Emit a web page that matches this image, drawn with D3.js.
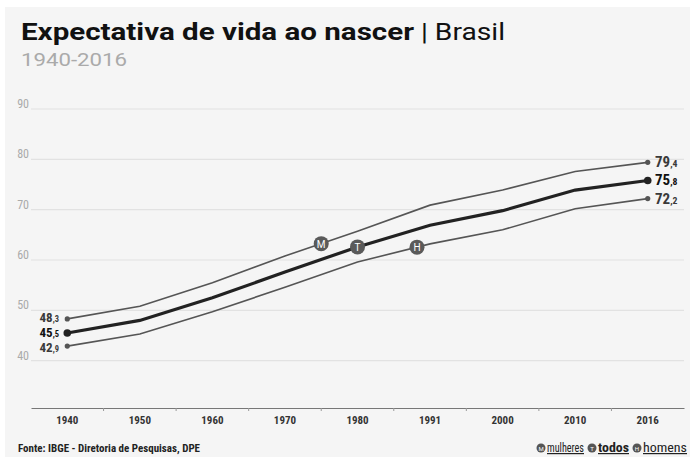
<!DOCTYPE html>
<meta charset="utf-8">
<style>
  body { margin: 0; background: #fff; }
  svg { display: block; }
  .cond { font-family: "Roboto Condensed", "Liberation Sans Narrow", "DejaVu Sans Condensed", sans-serif; font-stretch: condensed; }
</style>
<svg width="695" height="457"></svg>
<script src="https://d3js.org/d3.v7.min.js"></script>
<script>
var years = ["1940", "1950", "1960", "1970", "1980", "1991", "2000", "2010", "2016"]
var mulheres = [48.3, 50.8, 55.5, 60.8, 65.7, 70.9, 73.9, 77.6, 79.4]
var todos    = [45.5, 48.0, 52.5, 57.6, 62.6, 66.9, 69.8, 73.9, 75.8]
var homens   = [42.9, 45.3, 49.7, 54.6, 59.6, 63.2, 66.0, 70.2, 72.2]
var yTicks = [40, 50, 60, 70, 80, 90]

const svg = d3.select('svg')

svg.append('rect')
  .attr('x', 5).attr('y', 7)
  .attr('width', 685).attr('height', 450)
  .attr('fill', '#f5f5f5')

const x = d3.scaleBand().domain(years).range([31, 684])
const y = d3.scaleLinear().domain([30.6, 90]).range([408, 109])
const cx = d => x(d) + x.bandwidth() / 2

// gridlines
const grid = svg.append('g')
grid.selectAll('line')
  .data(yTicks)
  .enter().append('line')
  .attr('x1', 31).attr('x2', 684)
  .attr('y1', d => y(d)).attr('y2', d => y(d))
  .attr('stroke', '#e2e2e2')
  .attr('stroke-width', 1.2)

grid.selectAll('text')
  .data(yTicks)
  .enter().append('text')
  .attr('class', 'cond')
  .attr('x', 29).attr('y', d => y(d) - 1)
  .attr('text-anchor', 'end')
  .attr('font-size', 12)
  .attr('fill', '#aaa')
  .text(d => d)

// x axis
const xAxis = svg.append('g')
  .attr('transform', 'translate(0,408)')
  .call(d3.axisBottom(x).tickSize(0).tickPadding(8))
xAxis.select('.domain').attr('stroke', '#777').attr('stroke-width', 1)
xAxis.selectAll('text')
  .attr('class', 'cond')
  .attr('font-size', 11)
  .attr('font-weight', 'bold')
  .attr('fill', '#333')
xAxis.selectAll('.sep')
  .data(years.slice(1))
  .enter().append('line')
  .attr('x1', d => x(d)).attr('x2', d => x(d))
  .attr('y1', 0).attr('y2', 3)
  .attr('stroke', '#999')

// lines
const series = [
  { key: 'M', values: mulheres, width: 1.6, color: '#555', r: 2.6, dy: 3 },
  { key: 'H', values: homens, width: 1.6, color: '#555', r: 2.6, dy: 6 },
  { key: 'T', values: todos, width: 3.2, color: '#222', r: 3.8, dy: 4.5 }
]

const line = d3.line()
  .x((d, i) => cx(years[i]))
  .y(d => y(d))

series.forEach(s => {
  svg.append('path')
    .datum(s.values)
    .attr('d', line)
    .attr('fill', 'none')
    .attr('stroke', s.color)
    .attr('stroke-width', s.width)
  svg.append('g').selectAll('circle')
    .data([0, years.length - 1])
    .enter().append('circle')
    .attr('cx', i => cx(years[i]))
    .attr('cy', i => y(s.values[i]))
    .attr('r', s.r)
    .attr('fill', s.color)
})

// end labels
function valueLabel(v, xx, anchor, bold, size) {
  const parts = v.toFixed(1).split('.')
  const t = svg.append('text')
    .attr('class', 'cond')
    .attr('x', xx).attr('y', 0)
    .attr('text-anchor', anchor)
    .attr('fill', bold ? '#111' : '#3a3a3a')
    .attr('font-weight', 'bold')
  t.append('tspan').attr('font-size', size).text(parts[0])
  t.append('tspan').attr('font-size', size * 0.65).text(',' + parts[1])
  return t
}
series.forEach(s => {
  const bold = s.key === 'T'
  valueLabel(s.values[0], 59, 'end', bold, 13).attr('y', y(s.values[0]) + s.dy)
  valueLabel(s.values[years.length - 1], 655, 'start', bold, 15).attr('y', y(s.values[years.length - 1]) + 5)
})

// series markers on the lines
const markers = [
  { key: 'M', values: mulheres, from: 3, t: 0.5 },
  { key: 'T', values: todos, from: 4, t: 0 },
  { key: 'H', values: homens, from: 4, t: 0.82 }
]
markers.forEach(m => {
  const x0 = cx(years[m.from]), x1 = cx(years[m.from + 1])
  const v = m.values[m.from] + (m.values[m.from + 1] - m.values[m.from]) * m.t
  const g = svg.append('g')
    .attr('transform', 'translate(' + (x0 + (x1 - x0) * m.t) + ',' + y(v) + ')')
  g.append('circle').attr('r', 7.5).attr('fill', '#5a5a5a')
  g.append('text')
    .attr('text-anchor', 'middle').attr('dy', 4)
    .attr('font-family', 'Roboto, sans-serif')
    .attr('font-size', 10)
    .attr('fill', '#fff')
    .text(m.key)
})

// title
svg.append('text')
  .attr('x', 21).attr('y', 40)
  .attr('font-family', 'Roboto, sans-serif')
  .attr('font-size', 24)
  .attr('font-weight', 'bold')
  .attr('fill', '#111')
  .attr('textLength', 393)
  .attr('lengthAdjust', 'spacingAndGlyphs')
  .text('Expectativa de vida ao nascer')
svg.append('text')
  .attr('x', 421).attr('y', 40)
  .attr('font-family', 'Roboto, sans-serif')
  .attr('font-size', 24)
  .attr('fill', '#111')
  .attr('textLength', 84)
  .attr('lengthAdjust', 'spacingAndGlyphs')
  .text('| Brasil')

svg.append('text')
  .attr('x', 21).attr('y', 66)
  .attr('font-family', 'Roboto, sans-serif')
  .attr('font-size', 18)
  .attr('fill', '#aaa')
  .attr('textLength', 106)
  .attr('lengthAdjust', 'spacingAndGlyphs')
  .text('1940-2016')

// footer
svg.append('text')
  .attr('class', 'cond')
  .attr('x', 18).attr('y', 452)
  .attr('font-size', 11)
  .attr('font-weight', 'bold')
  .attr('fill', '#222')
  .attr('textLength', 182)
  .attr('lengthAdjust', 'spacingAndGlyphs')
  .text('Fonte: IBGE - Diretoria de Pesquisas, DPE')

const legend = [
  { key: 'M', label: 'mulheres', x: 541, w: 37, bold: false },
  { key: 'T', label: 'todos', x: 592, w: 31, bold: true },
  { key: 'H', label: 'homens', x: 637, w: 44, bold: false }
]
const lg = svg.append('g').selectAll('g')
  .data(legend)
  .enter().append('g')
  .attr('transform', d => 'translate(' + d.x + ',448)')
lg.append('circle').attr('r', 4.5).attr('fill', '#555')
lg.append('text')
  .attr('text-anchor', 'middle').attr('dy', 2.5)
  .attr('font-size', 6).attr('fill', '#fff')
  .attr('font-family', 'Roboto, sans-serif')
  .text(d => d.key)
lg.append('text')
  .attr('class', 'cond')
  .attr('x', 6).attr('dy', 4)
  .attr('font-size', 12)
  .attr('font-weight', d => d.bold ? 'bold' : 'normal')
  .attr('fill', '#222')
  .attr('text-decoration', 'underline')
  .attr('textLength', d => d.w)
  .attr('lengthAdjust', 'spacingAndGlyphs')
  .text(d => d.label)
</script>
